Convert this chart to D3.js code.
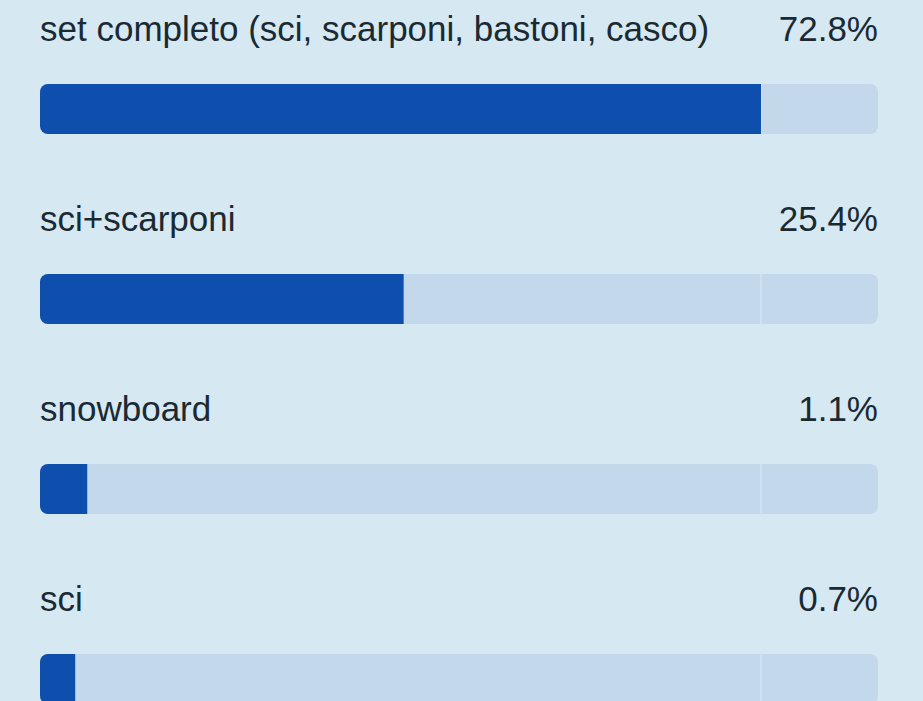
<!DOCTYPE html>
<html>
<head>
<meta charset="utf-8">
<script src="https://cdn.jsdelivr.net/npm/d3@7/dist/d3.min.js"></script>
<style>
  html, body { margin: 0; padding: 0; background: #d6e8f2; }
  svg { display: block; }
</style>
</head>
<body>
<svg id="chart" width="923" height="701"></svg>
<script>
const categories = ["set completo (sci, scarponi, bastoni, casco)", "sci+scarponi", "snowboard", "sci"];
const values = [72.8, 25.4, 1.1, 0.7];
const valueLabels = ["72.8%", "25.4%", "1.1%", "0.7%"];

const W = 923, H = 701;
const left = 40, right = 878;
const rowStep = 190, labelBase = 41, barTop = 84, barH = 50;

const svg = d3.select("#chart");
svg.append("rect").attr("width", W).attr("height", H).attr("fill", "#d6e8f2");

const maxV = d3.max(values);
const x = d3.scalePow().exponent(0.65).domain([0, maxV]).range([left, 761]);
const y = d3.scaleBand().domain(categories).range([0, rowStep * categories.length]).padding(0);

const defs = svg.append("defs");
const rows = svg.selectAll("g.row").data(categories).join("g")
  .attr("class", "row")
  .attr("transform", d => `translate(0,${y(d)})`);

rows.each(function(d, i) {
  defs.append("clipPath").attr("id", "clip" + i)
    .append("rect").attr("x", left).attr("y", barTop).attr("width", right - left)
    .attr("height", barH).attr("rx", 8).attr("ry", 8);
});

const font = "'Liberation Sans', Arial, Helvetica, sans-serif";

rows.append("text")
  .attr("x", left).attr("y", labelBase)
  .attr("font-family", font)
  .attr("font-size", 35).attr("fill", "#1a2a33")
  .text(d => d);

rows.append("text")
  .attr("x", right).attr("y", labelBase)
  .attr("text-anchor", "end")
  .attr("font-family", font)
  .attr("font-size", 35).attr("fill", "#1a2a33")
  .text((d, i) => valueLabels[i]);

rows.append("rect")
  .attr("x", left).attr("y", barTop).attr("width", right - left).attr("height", barH)
  .attr("rx", 8).attr("ry", 8).attr("fill", "#c4d8ec");

rows.append("line")
  .attr("x1", x(maxV)).attr("x2", x(maxV))
  .attr("y1", barTop).attr("y2", barTop + barH)
  .attr("stroke", "#dbe8f4").attr("stroke-width", 1);

rows.append("rect")
  .attr("clip-path", (d, i) => `url(#clip${i})`)
  .attr("x", left).attr("y", barTop)
  .attr("width", (d, i) => x(values[i]) - left)
  .attr("height", barH)
  .attr("fill", "#0e4fae");
</script>
</body>
</html>
